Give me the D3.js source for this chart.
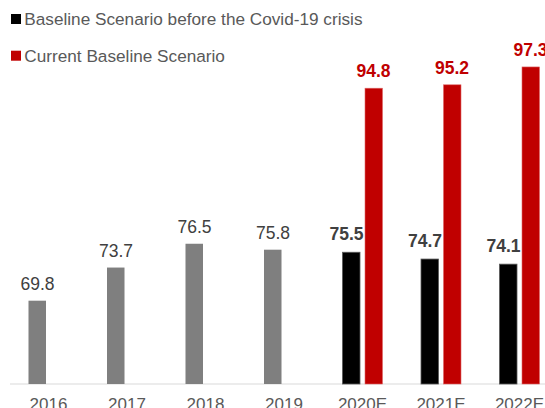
<!DOCTYPE html>
<html>
<head>
<meta charset="utf-8">
<script src="https://cdn.jsdelivr.net/npm/d3@7"></script>
<style>
  body { margin: 0; background: #fff; }
  svg { display: block; font-family: "Liberation Sans", Arial, sans-serif; }
</style>
</head>
<body>
<div id="chart"></div>
<script>
// chart data
var years = ["2016", "2017", "2018", "2019", "2020E", "2021E", "2022E"];
var beforeCovid = [69.8, 73.7, 76.5, 75.8, 75.5, 74.7, 74.1];
var current = [null, null, null, null, 94.8, 95.2, 97.3];
var isForecast = [false, false, false, false, true, true, true];
var legendNames = ["Baseline Scenario before the Covid-19 crisis", "Current Baseline Scenario"];

var width = 545, height = 408;

var svg = d3.select("#chart").append("svg")
    .attr("width", width)
    .attr("height", height);

var x = d3.scaleBand()
    .domain(years)
    .range([9.25, 558.75]);

var y = d3.scaleLinear()
    .domain([60, 100])
    .range([384, 44]);

var barW = 17.5;

// axis line
svg.append("line")
    .attr("x1", 10).attr("x2", width)
    .attr("y1", y(60)).attr("y2", y(60))
    .attr("stroke", "#d9d9d9")
    .attr("stroke-width", 1.2);

function center(d) { return x(d) + x.bandwidth() / 2; }

// baseline before covid bars (gray for history, black for forecast)
svg.selectAll("rect.before")
    .data(years)
    .enter().append("rect")
    .attr("class", "before")
    .attr("x", function(d) { return center(d) - 20; })
    .attr("y", function(d, i) { return y(beforeCovid[i]); })
    .attr("width", barW)
    .attr("height", function(d, i) { return y(60) - y(beforeCovid[i]); })
    .attr("fill", function(d, i) { return isForecast[i] ? "#000" : "#7f7f7f"; })
    .attr("stroke", function(d, i) { return isForecast[i] ? "#595959" : "none"; })
    .attr("stroke-width", 0.8);

svg.selectAll("text.before")
    .data(years)
    .enter().append("text")
    .attr("class", "before")
    .attr("x", function(d, i) { return center(d) - 11 - (isForecast[i] ? 5 : 0); })
    .attr("y", function(d, i) { return y(beforeCovid[i]) - (isForecast[i] ? 12 : 10.5); })
    .attr("text-anchor", "middle")
    .attr("font-size", "17.5px")
    .attr("font-weight", function(d, i) { return isForecast[i] ? "bold" : "normal"; })
    .attr("fill", "#404040")
    .text(function(d, i) { return beforeCovid[i].toFixed(1); });

// current scenario bars
var cur = years.filter(function(d, i) { return current[i] != null; });

svg.selectAll("rect.current")
    .data(cur)
    .enter().append("rect")
    .attr("class", "current")
    .attr("x", function(d) { return center(d) + 2.5; })
    .attr("y", function(d) { return y(current[years.indexOf(d)]); })
    .attr("width", barW)
    .attr("height", function(d) { return y(60) - y(current[years.indexOf(d)]); })
    .attr("fill", "#c00000")
    .attr("stroke", "#e06666")
    .attr("stroke-width", 0.6);

svg.selectAll("text.current")
    .data(cur)
    .enter().append("text")
    .attr("class", "current")
    .attr("x", function(d) { return center(d) + 11; })
    .attr("y", function(d) { return y(current[years.indexOf(d)]) - 11.3; })
    .attr("text-anchor", "middle")
    .attr("font-size", "17.5px")
    .attr("font-weight", "bold")
    .attr("fill", "#c00000")
    .text(function(d) { return current[years.indexOf(d)].toFixed(1); });

// category labels
svg.selectAll("text.cat")
    .data(years)
    .enter().append("text")
    .attr("class", "cat")
    .attr("x", function(d) { return center(d); })
    .attr("y", 410)
    .attr("text-anchor", "middle")
    .attr("font-size", "17px")
    .attr("fill", "#595959")
    .text(function(d) { return d; });

// legend
var legendColors = ["#000", "#c00000"];
var lg = svg.selectAll("g.legend")
    .data(legendNames)
    .enter().append("g")
    .attr("class", "legend")
    .attr("transform", function(d, i) { return "translate(11," + (14 + i * 36.7) + ")"; });

lg.append("rect")
    .attr("width", 10).attr("height", 10)
    .attr("fill", function(d, i) { return legendColors[i]; });

lg.append("text")
    .attr("x", 13.3)
    .attr("y", 11)
    .attr("font-size", "17.2px")
    .attr("fill", "#595959")
    .text(function(d) { return d; });
</script>
</body>
</html>
